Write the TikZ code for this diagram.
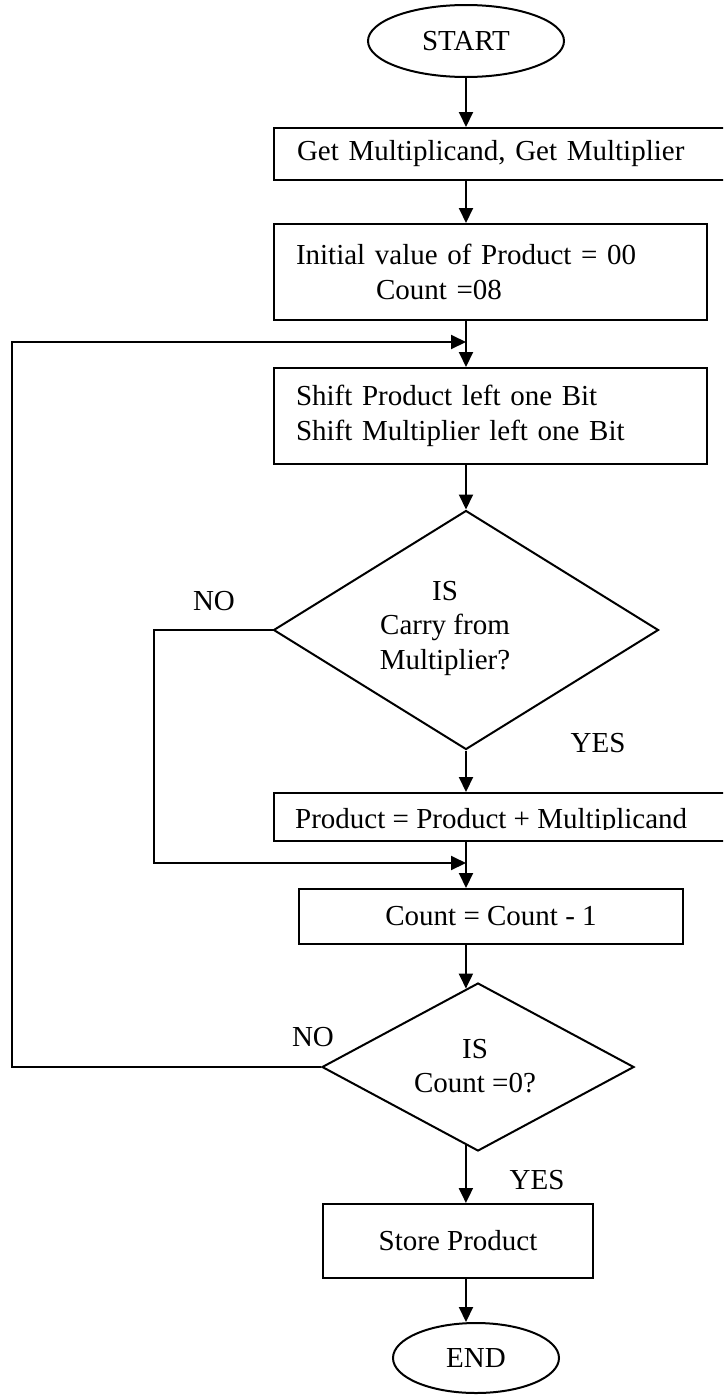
\documentclass[tikz,border=0pt]{standalone}
\usepackage{fontspec}
\setmainfont{Liberation Serif}
\usetikzlibrary{shapes.geometric,arrows.meta,calc}

\begin{document}
\begin{tikzpicture}[x=1pt,y=-1pt,
  every node/.style={font=\fontsize{29}{34.5}\selectfont},
  line/.style={line width=2pt},
  arr/.style={line width=2pt,-{Triangle[length=15pt,width=14pt]}},
  box/.style={draw,line width=2pt,rectangle,anchor=north west,inner xsep=22pt,inner ysep=0pt},
  term/.style={draw,line width=2pt,ellipse,inner sep=0pt},
  decision/.style={draw,line width=2pt,diamond,inner sep=0pt},
  tag/.style={inner sep=0pt}]

\useasboundingbox (0,0) rectangle (723,1395);
\clip (0,0) rectangle (723,1395);

% terminals
\node[term,minimum width=196pt,minimum height=72pt] (start) at (466,41) {START};
\node[term,minimum width=166pt,minimum height=70pt] (stop) at (476,1358) {END};

% process boxes
\node[box,minimum width=455pt,minimum height=52pt,text width=409pt,align=left] (get) at (273,127)
  {Get Multiplicand, Get Multiplier};
\node[box,minimum width=433pt,minimum height=96pt,text width=389pt,align=left] (init) at (273,223)
  {Initial value of Product = 00\\\hspace*{80pt}Count =08};
\node[box,minimum width=433pt,minimum height=96pt,text width=389pt,align=left] (shift) at (273,367)
  {Shift Product left one Bit\\Shift Multiplier left one Bit};
\node[box,minimum width=455pt,minimum height=48pt] (prod) at (273,792) {};
\begin{scope}
  \clip (273,792) rectangle (723,829);
  \node[tag,anchor=base west] (prodtxt) at (295,828) {Product = Product + Multiplicand};
\end{scope}
\node[box,minimum width=384pt,minimum height=55pt,inner xsep=0pt] (count) at (298,888) {Count = Count - 1};
\node[box,minimum width=270pt,minimum height=74pt,inner xsep=0pt] (store) at (322,1203) {Store Product};

% decisions
\node[decision,minimum width=385pt,minimum height=239pt] (q1) at (466,630) {};
\node[tag,align=center] (q1txt) at (445,628) {IS\\Carry from\\Multiplier?};
\node[decision,minimum width=312pt,minimum height=168pt] (q2) at (478,1067) {};
\node[tag,align=center] (q2txt) at (475,1066) {IS\\Count =0?};

% branch labels
\node[tag] (no1) at (214,601) {NO};
\node[tag] (yes1) at (598,743) {YES};
\node[tag] (no2) at (313,1037) {NO};
\node[tag] (yes2) at (537,1180) {YES};

% helper points
\coordinate (axis) at (466,0);
\coordinate (m0) at (466,342);
\coordinate (m1) at (466,863);
\coordinate (n1) at (154,630);
\coordinate (n2) at (12,1067);
\coordinate (q2in) at ($(q2.north)!0.077!(q2.west)$);
\coordinate (q2out) at ($(q2.south)!0.077!(q2.west)$);

% connectors
\draw[arr] (start.south) -- (axis |- get.north);
\draw[arr] (get.south -| axis) -- (axis |- init.north);
\draw[arr] (init.south -| axis) -- (axis |- shift.north);
\draw[arr] (q2.west) -- (n2) |- (m0);
\draw[arr] (shift.south -| axis) -- (q1.north);
\draw[arr] (q1.south) -- (axis |- prod.north);
\draw[arr] (prod.south -| axis) -- (axis |- count.north);
\draw[arr] (q1.west) -- (n1) |- (m1);
\draw[arr] (count.south -| q2in) -- (q2in);
\draw[arr] (q2out) -- (q2out |- store.north);
\draw[arr] (store.south -| axis) -- (axis |- stop.north);
\end{tikzpicture}
\end{document}
